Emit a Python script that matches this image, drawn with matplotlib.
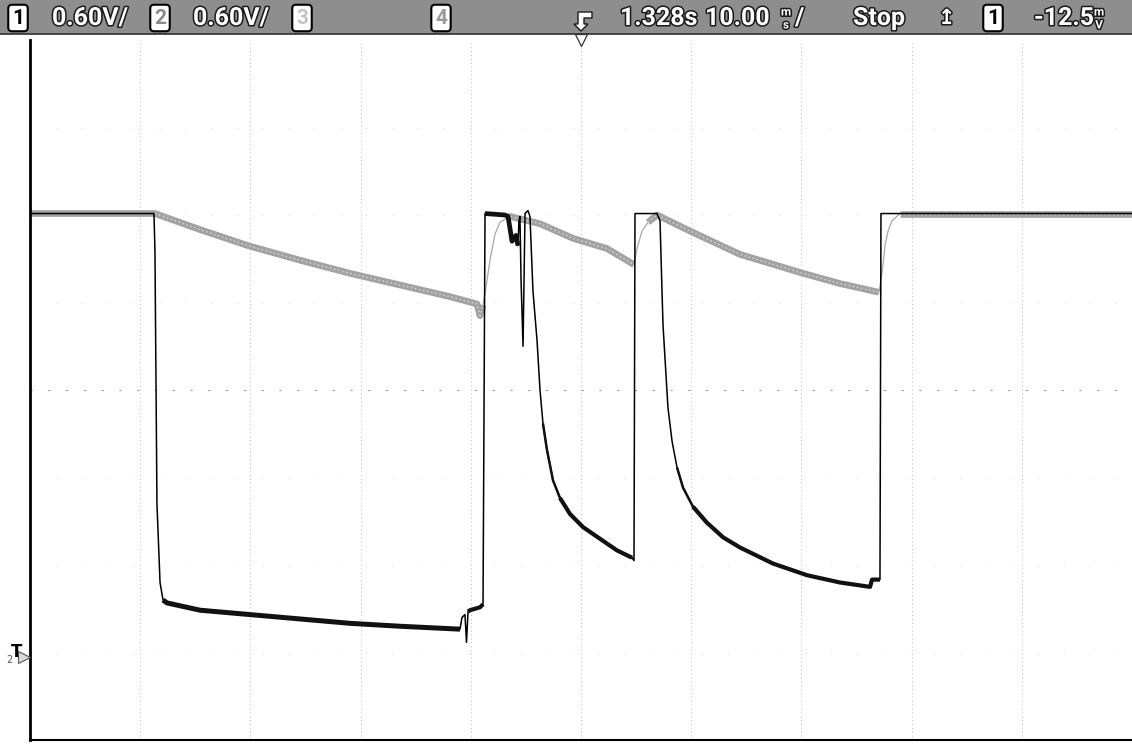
import numpy as np
import matplotlib
matplotlib.use("Agg")
import matplotlib.pyplot as plt
import matplotlib.patheffects as pe
from matplotlib.patches import Rectangle, Polygon

# scope settings
volts_per_div = 0.60
ms_per_div = 10.0
ground_div = -3.05  # ground marker, in divisions from screen centre

# channel 1 (black trace): time from trigger in ms, volts
ch1_t = [-50.0, -38.75, -38.66, -38.48, -38.20, -37.93, -37.57, -34.57, -30.04, -25.50,
         -20.96, -16.42, -10.98, -10.80, -10.53, -10.39, -10.25, -10.07, -9.17, -8.89,
         -8.71, -6.90, -6.62, -6.26, -5.90, -5.72, -5.63, -5.54, -5.44, -5.26,
         -5.08, -4.81, -4.63, -4.36, -3.99, -3.72, -3.45, -3.09, -2.54, -1.91,
         -1.00, 0.18, 1.72, 3.27, 4.63, 4.81, 4.90, 6.90, 7.17, 7.35,
         7.44, 7.62, 7.89, 8.26, 8.71, 9.26, 10.16, 11.43, 12.89, 14.43,
         17.42, 20.51, 23.50, 26.23, 26.41, 27.13, 27.22, 50.0]
ch1_v = [3.04, 3.04, 2.78, 1.05, 0.51, 0.39, 0.37, 0.32, 0.29, 0.26,
         0.23, 0.21, 0.19, 0.27, 0.29, 0.10, 0.31, 0.32, 0.34, 0.36,
         3.04, 3.03, 3.02, 2.85, 2.89, 2.82, 2.99, 3.02, 2.58, 2.13,
         3.04, 3.06, 3.02, 2.51, 2.17, 1.83, 1.60, 1.42, 1.21, 1.09,
         0.98, 0.89, 0.81, 0.73, 0.68, 0.66, 3.04, 3.04, 2.99, 2.51,
         2.28, 2.05, 1.71, 1.48, 1.30, 1.16, 1.03, 0.92, 0.82, 0.75,
         0.64, 0.56, 0.51, 0.48, 0.53, 0.53, 3.04, 3.04]

# channel 2 (gray trace)
ch2_t = [-50.0, -38.93, -38.66, -34.57, -30.22, -25.50, -20.96, -16.42, -11.89, -9.44,
         -9.17, -8.89, -8.53, -8.26, -7.80, -7.35, -6.72, -6.44, -3.72, -0.73,
         2.36, 4.81, 5.08, 5.54, 6.08, 6.90, 9.89, 14.43, 20.15, 23.50,
         27.04, 27.31, 27.59, 27.86, 28.22, 28.95, 50.0]
ch2_v = [3.04, 3.04, 3.04, 2.93, 2.82, 2.72, 2.63, 2.55, 2.47, 2.42,
         2.34, 2.41, 2.58, 2.72, 2.90, 2.98, 3.01, 3.02, 2.97, 2.87,
         2.80, 2.69, 2.80, 2.92, 2.98, 3.03, 2.92, 2.76, 2.63, 2.56,
         2.50, 2.63, 2.82, 2.92, 2.99, 3.04, 3.04]

# parts of the traces that are noisy on screen, (start, end, width)
ch1_noisy = [(-37.95, -10.98, 3.6), (-10.25, -8.88, 3.0), (-8.72, -5.7, 3.4),
             (-3.5, 4.7, 1.8), (-1.95, 4.7, 3.0), (8.6, 27.14, 1.8), (10.1, 27.14, 3.0),
             (27.3, 50, 1.6)]
ch2_noisy = [(-50, -8.88), (-6.8, 4.85), (6.0, 27.1), (28.9, 50)]

W, H = 1132, 744
BAR = 34


def fx(px):
    return px / W


def fy(py):
    return 1 - py / H


fig = plt.figure(figsize=(W / 100, H / 100), dpi=100)
ax = fig.add_axes([30 / W, 4 / H, 1102 / W, 700 / H])
ax.set_xlim(-5 * ms_per_div, 5 * ms_per_div)
ax.set_ylim((-4 - ground_div) * volts_per_div, (4 - ground_div) * volts_per_div)

# graticule
for k in range(-4, 5):
    ax.axvline(k * ms_per_div, color="#b8b8b8", lw=0.7, ls=(0, (1, 3)), zorder=1)
for k in range(-3, 4):
    y = (k - ground_div) * volts_per_div
    if k == 0:
        ax.axhline(y, color="#9a9a9a", lw=0.8, ls=(0, (2, 14)), zorder=1)
    else:
        ax.axhline(y, color="#d0d0d0", lw=0.6, ls=(0, (1, 30)), zorder=1)

t1 = np.array(ch1_t)
v1 = np.array(ch1_v)
t2 = np.array(ch2_t)
v2 = np.array(ch2_v)

# gray trace
ax.plot(t2, v2, color="#a8a8a8", lw=0.9, zorder=2)
for a, b in ch2_noisy:
    m = (t2 >= a) & (t2 <= b)
    ax.plot(t2[m], v2[m], color="#a2a2a2", lw=4.8, solid_capstyle="butt", zorder=2)
    ax.plot(t2[m], v2[m], color="white", lw=1.0, ls=(0, (1, 2)), alpha=0.6, zorder=2)

# black trace
ax.plot(t1, v1, color="black", lw=1.1, zorder=3)
for a, b, w in ch1_noisy:
    m = (t1 >= a) & (t1 <= b)
    ax.plot(t1[m], v1[m], color="#111111", lw=w, solid_capstyle="butt", zorder=3)

for s in ["top", "right"]:
    ax.spines[s].set_visible(False)
ax.spines["left"].set_linewidth(2.0)
ax.spines["bottom"].set_linewidth(1.5)
ax.set_xticks([])
ax.set_yticks([])

# status bar at the top
fig.patches.append(Rectangle((0, fy(BAR)), 1, BAR / H, transform=fig.transFigure,
                             facecolor="#8e8e8e", edgecolor="none", zorder=0))
fig.add_artist(plt.Line2D([0, 1], [fy(BAR), fy(BAR)], color="#303030", lw=1.2))

outline = [pe.withStroke(linewidth=2.2, foreground="#1a1a1a")]
ty = fy(18)


def bar_text(px, s, size=18, family="Roboto", **kw):
    fig.text(fx(px), ty, s, color="white", fontsize=size, fontweight="bold", family=family,
             va="center", ha="left", path_effects=outline, **kw)


def small_unit(px, top, bottom):
    for s, py in [(top, 12), (bottom, 25)]:
        fig.text(fx(px), fy(py), s, color="white", fontsize=8.5, fontweight="bold", family="Roboto",
                 va="center", ha="center", path_effects=outline)


def chan_box(px, s, fc="white", tc="black"):
    fig.text(fx(px), ty, s, color=tc, fontsize=15, fontweight="bold", family="Roboto",
             va="center", ha="center",
             bbox=dict(boxstyle="round,pad=0.18", fc=fc, ec="black", lw=1.5))


chan_box(18, "1")
bar_text(52, "0.60V/")
chan_box(160, "2", tc="#8a8a8a")
bar_text(193, "0.60V/")
chan_box(302, "3", tc="#c4c4c4")
chan_box(441, "4", tc="#9a9a9a")

# trigger position arrow
arrow = Polygon([[fx(592), fy(18)], [fx(584), fy(18)], [fx(584), fy(24)], [fx(588), fy(24)],
                 [fx(581), fy(31)], [fx(574), fy(24)], [fx(578), fy(24)], [fx(578), fy(12)],
                 [fx(592), fy(12)]], closed=True, transform=fig.transFigure,
                facecolor="white", edgecolor="#1a1a1a", lw=1.0)
fig.patches.append(arrow)
fig.add_artist(plt.Line2D([fx(581)], [fy(40)], marker="v", markersize=9, markerfacecolor="white",
                          markeredgecolor="#333333", markeredgewidth=0.9))

bar_text(620, "1.328s")
bar_text(705, "10.00")
small_unit(786, "m", "s")
bar_text(795, "/")
bar_text(853, "Stop")
bar_text(938, "\u21a5", size=15, family="DejaVu Sans")
chan_box(993, "1")
bar_text(1034, "-12.5")
small_unit(1099, "m", "V")

# ground reference marker on the left edge
fig.text(fx(9), fy(660), "2", fontsize=7, color="#555555", ha="center", va="center")
fig.text(fx(17), fy(652), "T", fontsize=12, fontweight="bold", color="black", ha="center", va="center")
fig.add_artist(plt.Line2D([fx(24)], [fy(657)], marker=">", markersize=8, markerfacecolor="#d8d8d8",
                          markeredgecolor="#555555", markeredgewidth=0.8))

fig.savefig("out.png", dpi=100, facecolor="white")
